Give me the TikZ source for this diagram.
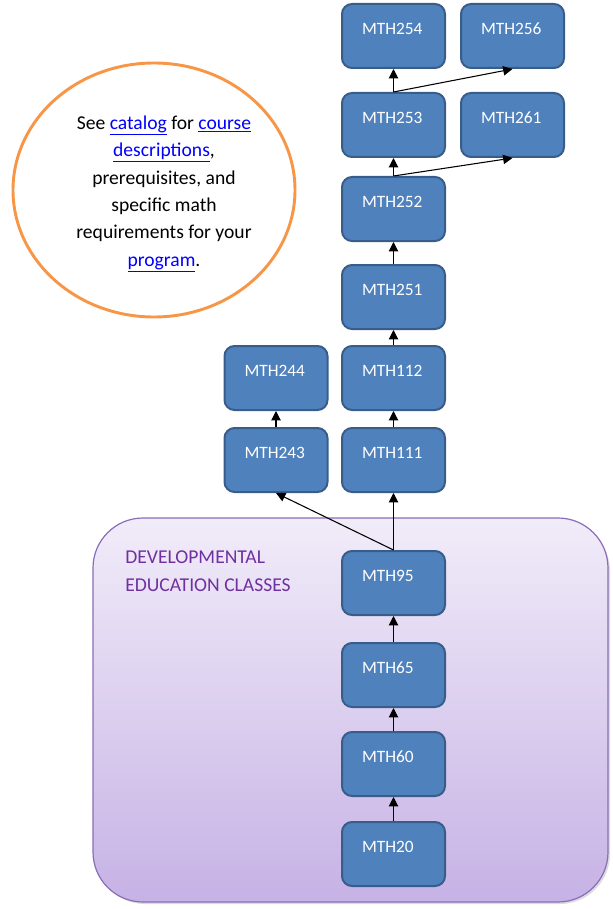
\documentclass[tikz,border=0pt]{standalone}
\usepackage{fontspec}
\setmainfont{Carlito}
\usetikzlibrary{arrows.meta}

\definecolor{boxblue}{HTML}{4F81BD}
\definecolor{boxedge}{HTML}{385D8A}
\definecolor{noteorange}{HTML}{F79646}
\definecolor{devtop}{HTML}{F1ECF9}
\definecolor{devbottom}{HTML}{C6B2E5}
\definecolor{devedge}{HTML}{8A6DB8}
\definecolor{devtext}{HTML}{7030A0}
\definecolor{linkblue}{HTML}{0000FF}

\newcommand{\lnk}[1]{\textcolor{linkblue}{\underline{#1}}}

\tikzset{
  course/.style={draw=boxedge, line width=1.5pt, fill=boxblue, rounded corners=7.5pt,
    text=white, font=\fontsize{13}{15.6}\selectfont, align=left,
    text width=47.25pt, inner xsep=15pt, inner ysep=0pt,
    text height=23pt, text depth=25pt},
  prereq/.style={-{Triangle[length=7pt,width=7pt]}, line width=0.8pt, black}
}

\begin{document}
\begin{tikzpicture}[x=0.75pt,y=-0.75pt]
\useasboundingbox (0,0) rectangle (613,909);

% developmental classes
\fill[black!45, opacity=.3, rounded corners=37.5pt] (95,521) rectangle (610,904);
\shade[top color=devtop, bottom color=devbottom, draw=devedge, line width=0.9pt,
  rounded corners=37.5pt] (93,518) rectangle (608,902);
\node[anchor=north west, align=left, text=devtext, inner sep=0pt,
  font=\fontsize{14.7}{21}\selectfont] (devtitle) at (125,551)
  {DEVELOPMENTAL\\EDUCATION CLASSES};

% catalog note
\draw[noteorange, line width=2.2pt] (154,190) ellipse (141 and 127);
\node[align=center, font=\fontsize{14.7}{20.6}\selectfont] (note) at (164,194)
  {See \lnk{catalog} for \lnk{course}\\ \lnk{descriptions},\\ prerequisites, and\\
   specific math\\ requirements for your\\ \lnk{program}.};

\node[course] (m254) at (393.5,36) {MTH254};
\node[course] (m256) at (512.5,36) {MTH256};
\node[course] (m253) at (393.5,125) {MTH253};
\node[course] (m261) at (512.5,125) {MTH261};
\node[course] (m252) at (393.5,209) {MTH252};
\node[course] (m251) at (393.5,297) {MTH251};
\node[course] (m244) at (276,378) {MTH244};
\node[course] (m112) at (393.5,378) {MTH112};
\node[course] (m243) at (276,460) {MTH243};
\node[course] (m111) at (393.5,460) {MTH111};
\node[course] (m95) at (393.5,583) {MTH95};
\node[course] (m65) at (393.5,675) {MTH65};
\node[course] (m60) at (393.5,764) {MTH60};
\node[course] (m20) at (393.5,854) {MTH20};

\draw[prereq] (m20.north) -- (m60.south);
\draw[prereq] (m60.north) -- (m65.south);
\draw[prereq] (m65.north) -- (m95.south);
\draw[prereq] (m95.north) -- (m111.south);
\draw[prereq] (m95.north) -- (m243.south);
\draw[prereq] (m243.north) -- (m244.south);
\draw[prereq] (m111.north) -- (m112.south);
\draw[prereq] (m112.north) -- (m251.south);
\draw[prereq] (m251.north) -- (m252.south);
\draw[prereq] (m252.north) -- (m253.south);
\draw[prereq] (m252.north) -- (m261.south);
\draw[prereq] (m253.north) -- (m254.south);
\draw[prereq] (m253.north) -- (m256.south);
\end{tikzpicture}
\end{document}
